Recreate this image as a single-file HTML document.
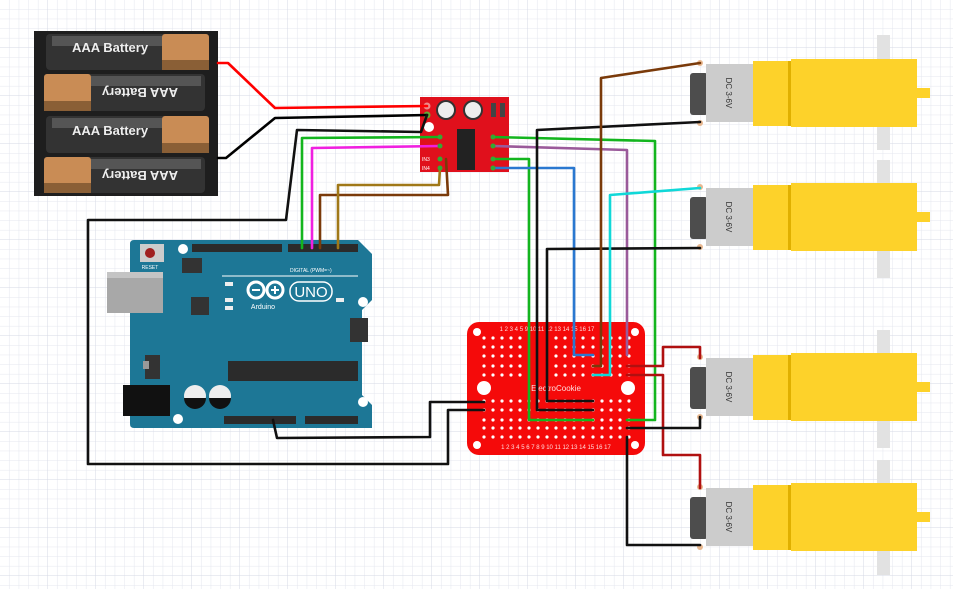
<!DOCTYPE html>
<html><head><meta charset="utf-8"><style>
html,body{margin:0;padding:0;background:#fff}
svg{display:block}
text{font-family:"Liberation Sans",sans-serif}
</style></head><body>
<svg width="953" height="589" viewBox="0 0 953 589" xmlns="http://www.w3.org/2000/svg">
<defs>
<pattern id="g" width="9.6" height="9.6" patternUnits="userSpaceOnUse"><path d="M9.6 0V9.6H0" fill="none" stroke="#e4e6ee" stroke-width="1"/></pattern>
<pattern id="g2" width="48" height="48" patternUnits="userSpaceOnUse"><path d="M48 0V48H0" fill="none" stroke="#d6d9e4" stroke-width="1"/></pattern>
</defs>
<rect width="953" height="589" fill="#fff"/>
<rect width="953" height="589" fill="url(#g)"/>
<rect width="953" height="589" fill="url(#g2)"/>

<rect x="877" y="35" width="13" height="115" fill="#e2e2e2"/>
<rect x="877" y="160" width="13" height="118" fill="#e2e2e2"/>
<rect x="877" y="330" width="13" height="118" fill="#e2e2e2"/>
<rect x="877" y="460" width="13" height="115" fill="#e2e2e2"/>

<g id="m1">
<rect x="690" y="73" width="18" height="42" rx="3" fill="#4d4d4d"/>
<rect x="706" y="64" width="47" height="58" fill="#cccccc"/>
<text x="729" y="93" font-size="8" fill="#333" text-anchor="middle" transform="rotate(90 729 93)" dy="3" font-family="Liberation Mono">DC 3-6V</text>
<rect x="753" y="61" width="38" height="65" fill="#fdd22a"/>
<rect x="788" y="61" width="4" height="65" fill="#e0b000"/>
<rect x="791" y="59" width="126" height="68" fill="#fdd22a"/>
<rect x="917" y="88" width="13" height="10" fill="#fdd22a"/>
<circle cx="700" cy="63" r="3" fill="#e8b890"/><circle cx="700" cy="123" r="3" fill="#e8b890"/>
</g>
<use href="#m1" y="124"/>
<use href="#m1" y="294"/>
<use href="#m1" y="424"/>

<rect x="34" y="31" width="184" height="165" fill="#1e1e1e"/>
<g>
<rect x="46" y="34" width="163" height="36" rx="4" fill="#333"/>
<rect x="52" y="36" width="110" height="10" fill="#555"/>
<rect x="162" y="34" width="47" height="36" rx="3" fill="#c98c55"/>
<rect x="162" y="60" width="47" height="10" fill="#8a5f36"/>
<text x="110" y="52" font-size="13" font-weight="bold" fill="#eee" text-anchor="middle">AAA Battery</text>
</g>
<g>
<rect x="44" y="74" width="161" height="37" rx="4" fill="#333"/>
<rect x="91" y="76" width="110" height="10" fill="#555"/>
<rect x="44" y="74" width="47" height="37" rx="3" fill="#c98c55"/>
<rect x="44" y="101" width="47" height="10" fill="#8a5f36"/>
<text x="140" y="92" font-size="13" font-weight="bold" fill="#eee" text-anchor="middle" transform="rotate(180 140 92)" dy="4">AAA Battery</text>
</g>
<g>
<rect x="46" y="116" width="163" height="37" rx="4" fill="#333"/>
<rect x="52" y="118" width="110" height="10" fill="#555"/>
<rect x="162" y="116" width="47" height="37" rx="3" fill="#c98c55"/>
<rect x="162" y="143" width="47" height="10" fill="#8a5f36"/>
<text x="110" y="135" font-size="13" font-weight="bold" fill="#eee" text-anchor="middle">AAA Battery</text>
</g>
<g>
<rect x="44" y="157" width="161" height="36" rx="4" fill="#333"/>
<rect x="91" y="159" width="110" height="10" fill="#555"/>
<rect x="44" y="157" width="47" height="36" rx="3" fill="#c98c55"/>
<rect x="44" y="183" width="47" height="10" fill="#8a5f36"/>
<text x="140" y="175" font-size="13" font-weight="bold" fill="#eee" text-anchor="middle" transform="rotate(180 140 175)" dy="4">AAA Battery</text>
</g>

<path d="M130 244 Q130 240 134 240 L358 240 L372 254 L372 300 L362 310 L362 395 L372 405 L372 428 L134 428 Q130 428 130 424 Z" fill="#1d7796"/>
<rect x="107" y="272" width="56" height="41" fill="#a8a8a8"/>
<rect x="107" y="272" width="56" height="6" fill="#c4c4c4"/>
<rect x="140" y="244" width="24" height="18" fill="#ccc"/><circle cx="150" cy="253" r="5" fill="#a02020"/>
<text x="150" y="269" font-size="5" fill="#fff" text-anchor="middle">RESET</text>
<rect x="182" y="258" width="20" height="15" fill="#333"/>
<rect x="192" y="244" width="90" height="8" fill="#2b2b2b"/>
<rect x="288" y="244" width="70" height="8" fill="#2b2b2b"/>
<text x="290" y="272" font-size="5" fill="#fff">DIGITAL (PWM=~)</text>
<line x1="222" y1="276" x2="358" y2="276" stroke="#fff" stroke-width="1"/>
<rect x="191" y="297" width="18" height="18" fill="#333"/>
<circle cx="256" cy="290" r="8" fill="none" stroke="#fff" stroke-width="3"/>
<circle cx="275" cy="290" r="8" fill="none" stroke="#fff" stroke-width="3"/>
<rect x="252" y="289" width="8" height="2" fill="#fff"/>
<rect x="271" y="289" width="8" height="2" fill="#fff"/><rect x="274" y="286" width="2" height="8" fill="#fff"/>
<rect x="290" y="282" width="42" height="19" rx="9" fill="none" stroke="#fff" stroke-width="1.5"/>
<text x="311" y="297" font-size="15" fill="#fff" text-anchor="middle">UNO</text>
<text x="263" y="309" font-size="7" fill="#fff" text-anchor="middle">Arduino</text>
<rect x="225" y="282" width="8" height="4" fill="#eee"/><rect x="225" y="298" width="8" height="4" fill="#eee"/><rect x="225" y="306" width="8" height="4" fill="#eee"/>
<rect x="336" y="298" width="8" height="4" fill="#eee"/>
<rect x="350" y="318" width="18" height="24" fill="#333"/>
<rect x="145" y="355" width="15" height="24" fill="#333"/><rect x="143" y="361" width="6" height="8" fill="#999"/>
<rect x="228" y="361" width="130" height="20" fill="#2b2b2b"/>
<rect x="123" y="385" width="47" height="31" fill="#111"/>
<circle cx="195" cy="396" r="11" fill="#eee"/><path d="M184 398 A11 11 0 0 0 206 398Z" fill="#111"/>
<circle cx="220" cy="396" r="11" fill="#eee"/><path d="M209 398 A11 11 0 0 0 231 398Z" fill="#111"/>
<rect x="224" y="416" width="72" height="8" fill="#2b2b2b"/>
<rect x="305" y="416" width="53" height="8" fill="#2b2b2b"/>
<circle cx="183" cy="249" r="5" fill="#fff"/><circle cx="178" cy="419" r="5" fill="#fff"/>
<circle cx="363" cy="302" r="5" fill="#fff"/><circle cx="363" cy="402" r="5" fill="#fff"/>

<rect x="420" y="97" width="89" height="75" fill="#e0101c"/>
<circle cx="427" cy="106" r="3.5" fill="#e88"/><circle cx="427" cy="115" r="3.5" fill="#6a3"/>
<circle cx="429" cy="127" r="5" fill="#fff"/>
<circle cx="446" cy="110" r="10" fill="#333"/><circle cx="446" cy="110" r="8" fill="#eee"/>
<circle cx="473" cy="110" r="10" fill="#333"/><circle cx="473" cy="110" r="8" fill="#eee"/>
<rect x="491" y="103" width="5" height="14" fill="#444"/><rect x="500" y="103" width="5" height="14" fill="#444"/>
<rect x="457" y="129" width="18" height="41" fill="#222"/>
<text x="422" y="161" font-size="5" fill="#fff">IN3</text><text x="422" y="170" font-size="5" fill="#fff">IN4</text>

<rect x="467" y="322" width="178" height="133" rx="12" fill="#f50a0a"/>
<g fill="#fff">
<circle cx="484" cy="388" r="7"/><circle cx="628" cy="388" r="7"/>
<circle cx="477" cy="332" r="4"/><circle cx="635" cy="332" r="4"/><circle cx="477" cy="445" r="4"/><circle cx="635" cy="445" r="4"/>
</g>
<g fill="#fff">
<g id="rowT"><circle cx="484" cy="338" r="1.6"/><circle cx="493" cy="338" r="1.6"/><circle cx="502" cy="338" r="1.6"/><circle cx="511" cy="338" r="1.6"/><circle cx="520" cy="338" r="1.6"/><circle cx="556" cy="338" r="1.6"/><circle cx="565" cy="338" r="1.6"/><circle cx="574" cy="338" r="1.6"/><circle cx="583" cy="338" r="1.6"/><circle cx="593" cy="338" r="1.6"/><circle cx="602" cy="338" r="1.6"/><circle cx="611" cy="338" r="1.6"/><circle cx="620" cy="338" r="1.6"/><circle cx="629" cy="338" r="1.6"/></g>
<use href="#rowT" y="9"/><use href="#rowT" y="18"/><use href="#rowT" y="28"/><use href="#rowT" y="37"/>
<g id="rowB"><circle cx="484" cy="401" r="1.6"/><circle cx="493" cy="401" r="1.6"/><circle cx="502" cy="401" r="1.6"/><circle cx="511" cy="401" r="1.6"/><circle cx="520" cy="401" r="1.6"/><circle cx="529" cy="401" r="1.6"/><circle cx="538" cy="401" r="1.6"/><circle cx="547" cy="401" r="1.6"/><circle cx="556" cy="401" r="1.6"/><circle cx="565" cy="401" r="1.6"/><circle cx="574" cy="401" r="1.6"/><circle cx="583" cy="401" r="1.6"/><circle cx="593" cy="401" r="1.6"/><circle cx="602" cy="401" r="1.6"/><circle cx="611" cy="401" r="1.6"/><circle cx="620" cy="401" r="1.6"/><circle cx="629" cy="401" r="1.6"/></g>
<use href="#rowB" y="9"/><use href="#rowB" y="19"/><use href="#rowB" y="27"/><use href="#rowB" y="36"/>
</g>
<text x="556" y="391" font-size="8" fill="#fdd" text-anchor="middle" font-family="Liberation Mono">ElectroCookie</text>
<text x="547" y="331" font-size="6" fill="#fdd" text-anchor="middle" font-family="Liberation Mono">1  2  3  4  5        9 10 11 12 13 14 15 16 17</text>
<text x="556" y="449" font-size="6" fill="#fdd" text-anchor="middle" font-family="Liberation Mono">1 2 3 4 5 6 7 8 9 10 11 12 13 14 15 16 17</text>

<g fill="none" stroke-width="2.6" stroke-linejoin="round" stroke-linecap="round">
<polyline points="218,63 228,63 275,108 427,106" stroke="#ff0000"/>
<polyline points="218,158 226,158 275,118 427,115" stroke="#000"/>
<polyline points="427,115 421,132 297,130 286,220 88,220 88,464 448,464 448,410 484,410" stroke="#111"/>
<polyline points="273,420 277,438 430,437 430,402 484,402" stroke="#111"/>
<polyline points="440,137 302,138 302,248" stroke="#13b51e"/>
<polyline points="440,146 312,148 312,248" stroke="#f020e0"/>
<polyline points="446,159 448,195 320,195 320,248" stroke="#7a3a0a"/>
<polyline points="440,168 439,185 338,185 338,248" stroke="#a07818"/>
<polyline points="493,137 655,141 655,420 627,420" stroke="#13b51e"/>
<polyline points="493,146 627,150 627,355" stroke="#9a5a9a"/>
<polyline points="493,159 529,159 529,420 593,420" stroke="#13b51e"/>
<polyline points="493,168 574,168 574,355 593,355" stroke="#2a78d0"/>
<polyline points="700,122 537,130 537,410 593,410" stroke="#111"/>
<polyline points="700,248 547,249 547,401 593,401" stroke="#111"/>
<polyline points="700,63 601,78 601,366 593,366" stroke="#7a3a0a"/>
<polyline points="700,188 610,195 610,375 593,375" stroke="#10d8d8"/>
<polyline points="627,366 663,366 663,347 700,347 700,358" stroke="#b01010"/>
<polyline points="627,375 663,375 663,455 700,455 700,488" stroke="#b01010"/>
<polyline points="627,428 700,428 700,417" stroke="#111"/>
<polyline points="627,437 627,545 700,545" stroke="#111"/>
</g>
<g fill="#3a3" >
<circle cx="440" cy="137" r="2.5"/><circle cx="440" cy="146" r="2.5"/><circle cx="440" cy="159" r="2.5"/><circle cx="440" cy="168" r="2.5"/>
<circle cx="493" cy="137" r="2.5"/><circle cx="493" cy="146" r="2.5"/><circle cx="493" cy="159" r="2.5"/><circle cx="493" cy="168" r="2.5"/>
</g>
</svg>
</body></html>
